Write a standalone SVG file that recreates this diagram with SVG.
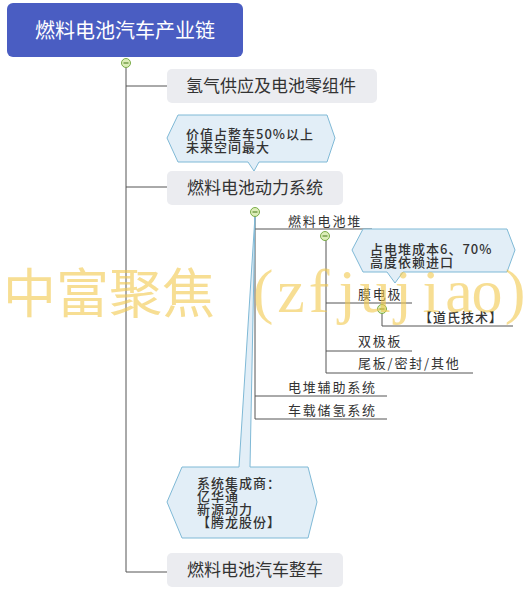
<svg xmlns="http://www.w3.org/2000/svg" width="532" height="594" viewBox="0 0 532 594">
<defs>
<style>
.cn{font-family:"Noto Sans CJK SC","Noto Sans",sans-serif;}
.box{fill:#ebecf0;}
.bt{font-size:17px;fill:#333;}
.lbl{font-size:13px;fill:#333;letter-spacing:1.8px;}
.ct{font-size:13px;fill:#333;letter-spacing:1px;font-weight:500;}
.ln{stroke:#555;stroke-width:1;fill:none;}
.call{fill:#e2eef7;stroke:#7fb9d6;stroke-width:1;}
.tog circle{fill:#dcedb8;stroke:#7aac48;stroke-width:1;}
.tog line{stroke:#5c8a30;stroke-width:1.2;}
.wm{fill:#f2c94c;opacity:0.6;}
</style>
</defs>
<rect width="532" height="594" fill="#fff"/>

<g id="connectors">
<path class="ln" d="M126,67 V572 H168 M126,86 H167 M126,187 H167"/>
<path class="ln" d="M255,216 V419 M255,229 H372 M255,396 H387 M255,419 H387"/>
<path class="ln" d="M326,240 V373 M326,303 H412 M326,351 H412 M326,373 H473"/>
<path class="ln" d="M382,313 V326 H513"/>
</g>

<g id="root">
<rect x="7" y="3" width="236" height="54" rx="6" fill="#4a5dc2"/>
<text class="cn" x="125" y="38" font-size="20" fill="#fff" text-anchor="middle">燃料电池汽车产业链</text>
</g>
<g id="toggle-root" class="tog"><circle cx="126" cy="63" r="4.5"/><line x1="123.5" y1="63" x2="128.5" y2="63"/></g>

<g id="n-hydrogen">
<rect class="box" x="167" y="69" width="210" height="34" rx="5"/>
<text class="cn bt" x="186" y="92">氢气供应及电池零组件</text>
</g>

<g id="callout-value">
<path class="call" d="M167,138 L178,115 L327,115 L335,138 L327,162 L259,162 L254,171 L248,162 L178,162 Z"/>
<text class="cn ct" x="186" y="139">价值占整车50%以上</text>
<text class="cn ct" x="186" y="152">未来空间最大</text>
</g>

<g id="n-power">
<rect class="box" x="167" y="171" width="176" height="34" rx="5"/>
<text class="cn bt" x="255" y="194" text-anchor="middle">燃料电池动力系统</text>
</g>

<g id="callout-integrator">
<path class="call" d="M167,502 L182,467 L239,467 L255,216 L250,467 L308,467 L317,502 L308,538 L182,538 Z"/>
<text class="cn ct" x="197" y="488">系统集成商：</text>
<text class="cn ct" x="197" y="501">亿华通</text>
<text class="cn ct" x="197" y="514">新源动力</text>
<text class="cn ct" x="197" y="527">【腾龙股份】</text>
</g>

<g id="toggle-power" class="tog"><circle cx="255" cy="212" r="4.5"/><line x1="252.5" y1="212" x2="257.5" y2="212"/></g>

<g id="n-stack">
<text class="cn lbl" x="288" y="226">燃料电池堆</text>
</g>
<g id="toggle-stack" class="tog"><circle cx="325" cy="236" r="4.5"/><line x1="322.5" y1="236" x2="327.5" y2="236"/></g>

<g id="callout-cost">
<path class="call" d="M352,250 L363,229 L507,229 L515,250 L507,272 L403,272 L395,283 L387,272 L363,272 Z"/>
<text class="cn ct" x="370" y="254">占电堆成本6、70%</text>
<text class="cn ct" x="370" y="267">高度依赖进口</text>
</g>

<g id="n-mea"><text class="cn lbl" x="358" y="299">膜电极</text></g>
<g id="toggle-mea" class="tog"><circle cx="382" cy="309" r="4.5"/><line x1="379.5" y1="309" x2="384.5" y2="309"/></g>
<g id="n-daoshi"><text class="cn ct" x="419" y="322">【道氏技术】</text></g>
<g id="n-bipolar"><text class="cn lbl" x="358" y="346">双极板</text></g>
<g id="n-endplate"><text class="cn lbl" x="358" y="368">尾板/密封/其他</text></g>
<g id="n-aux"><text class="cn lbl" x="288" y="392">电堆辅助系统</text></g>
<g id="n-h2store"><text class="cn lbl" x="288" y="415">车载储氢系统</text></g>

<g id="n-vehicle">
<rect class="box" x="167" y="553" width="176" height="34" rx="5"/>
<text class="cn bt" x="255" y="576" text-anchor="middle">燃料电池汽车整车</text>
</g>

<g id="watermark" class="wm">
<text class="cn" x="3" y="313" font-size="53">中富聚焦</text>
<text x="263 291 319 347 375 403 431 459 487 515" y="312" font-family="Liberation Serif,serif" font-size="62" text-anchor="middle">(zfjujiao)</text>
</g>
</svg>
